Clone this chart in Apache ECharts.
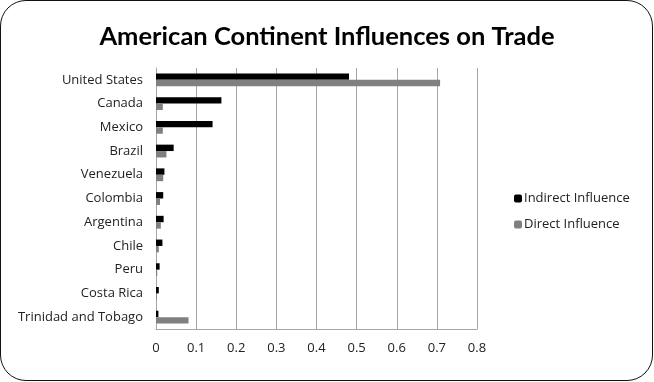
<!DOCTYPE html>
<html>
<head>
<meta charset="utf-8">
<script src="https://cdn.jsdelivr.net/npm/echarts@6/dist/echarts.min.js"></script>
<style>
  html, body { margin: 0; padding: 0; background: #fff; }
  #frame {
    position: absolute; left: 0; top: 0;
    width: 651px; height: 379px;
    border: 1.5px solid #111; border-radius: 26px;
    box-sizing: content-box; overflow: hidden;
  }
  #main { width: 654px; height: 382px; position: absolute; left: -1.5px; top: -1.5px; }
</style>
</head>
<body>
<div id="frame"><div id="main"></div></div>
<script>
// countries, top to bottom as in the picture
const countries = ['United States', 'Canada', 'Mexico', 'Brazil', 'Venezuela', 'Colombia',
  'Argentina', 'Chile', 'Peru', 'Costa Rica', 'Trinidad and Tobago']
const indirectInfluence = [0.481, 0.163, 0.141, 0.044, 0.021, 0.018, 0.019, 0.016, 0.009, 0.007, 0.006]
const directInfluence = [0.708, 0.017, 0.017, 0.026, 0.018, 0.010, 0.012, 0.007, 0.003, 0.002, 0.081]
const valueTicks = [0, 0.1, 0.2, 0.3, 0.4, 0.5, 0.6, 0.7, 0.8]

const titleFont = 'Lato, "Open Sans", sans-serif'
const font = '"Open Sans", Lato, sans-serif'
const myChart = echarts.init(document.getElementById('main'))
myChart.setOption({
  animation: false,
  title: {
    text: 'American Continent Influences on Trade',
    left: 'center',
    top: 19,
    textStyle: { fontFamily: titleFont, fontWeight: 'bold', fontSize: 25.5, color: '#000' }
  },
  legend: {
    orient: 'vertical',
    left: 509,
    top: 187,
    itemWidth: 8,
    itemHeight: 8,
    itemGap: 13,
    itemStyle: { borderWidth: 0 },
    textStyle: { fontFamily: font, fontSize: 13, color: '#222', padding: [0, 0, 0, -3] },
    data: ['Indirect Influence', 'Direct Influence']
  },
  grid: { left: 156, right: 177, top: 68, bottom: 53 },
  xAxis: {
    type: 'value',
    min: valueTicks[0],
    max: valueTicks[valueTicks.length - 1],
    interval: 0.1,
    axisLine: { show: true, lineStyle: { color: '#a6a6a6', width: 1 } },
    axisTick: { show: false },
    splitLine: { show: true, lineStyle: { color: '#a6a6a6', width: 1 } },
    axisLabel: {
      margin: 13,
      fontFamily: font, fontSize: 13, color: '#222',
      formatter: v => String(Math.round(v * 10) / 10)
    }
  },
  yAxis: {
    type: 'category',
    inverse: true,
    data: countries,
    axisLine: { show: true, lineStyle: { color: '#a6a6a6', width: 1 } },
    axisTick: { show: false },
    splitLine: { show: false },
    axisLabel: { margin: 13, fontFamily: font, fontSize: 13, color: '#222' }
  },
  series: [
    {
      name: 'Indirect Influence',
      type: 'bar',
      barGap: '0%',
      barCategoryGap: '46%',
      itemStyle: { color: '#000' },
      data: indirectInfluence
    },
    {
      name: 'Direct Influence',
      type: 'bar',
      barGap: '0%',
      barCategoryGap: '46%',
      itemStyle: { color: '#808080' },
      data: directInfluence
    }
  ]
})
</script>
</body>
</html>
